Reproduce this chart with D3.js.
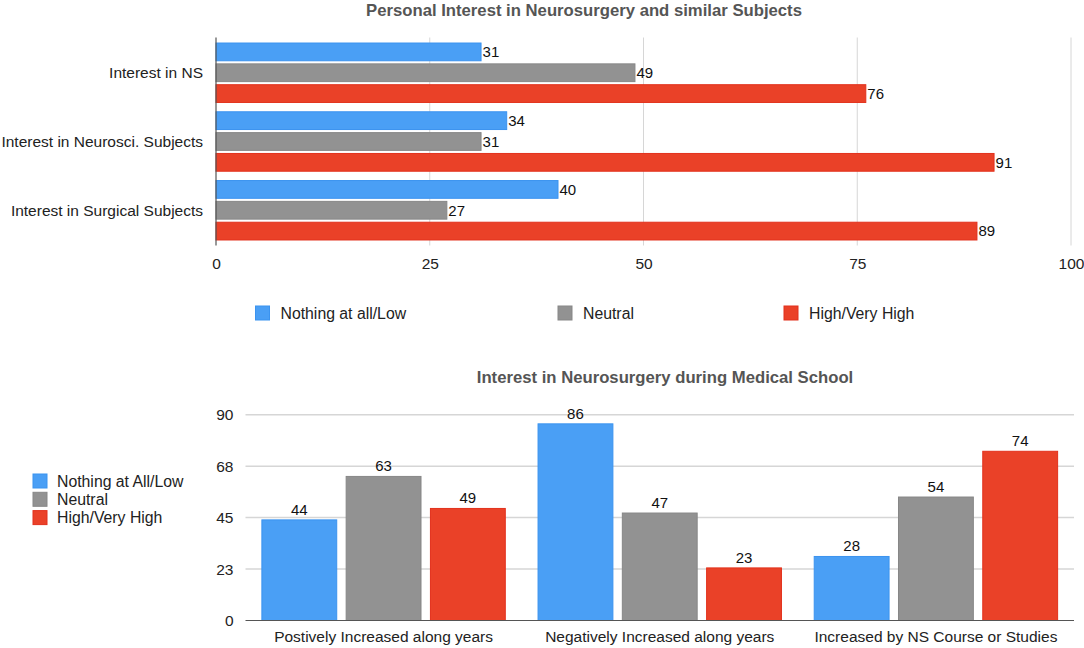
<!DOCTYPE html>
<html><head><meta charset="utf-8">
<script src="https://cdn.jsdelivr.net/npm/d3@7"></script>
<style>
html,body{margin:0;padding:0;background:#fff;}
svg{display:block;font-family:"Liberation Sans",Arial,Helvetica,sans-serif;}
</style></head>
<body>
<svg id="c" width="1084" height="648"></svg>
<script>
// ---- Top chart data ----
const topTitle = "Personal Interest in Neurosurgery and similar Subjects";
const topCategories = ["Interest in NS", "Interest in Neurosci. Subjects", "Interest in Surgical Subjects"];
const topSeries = ["Nothing at all/Low", "Neutral", "High/Very High"];
const topLow = [31, 34, 40];
const topNeutral = [49, 31, 27];
const topHigh = [76, 91, 89];
const topTicks = [0, 25, 50, 75, 100];

// ---- Bottom chart data ----
const botTitle = "Interest in Neurosurgery during Medical School";
const botCategories = ["Postively Increased along years", "Negatively Increased along years", "Increased by NS Course or Studies"];
const botSeries = ["Nothing at All/Low", "Neutral", "High/Very High"];
const botLow = [44, 86, 28];
const botNeutral = [63, 47, 54];
const botHigh = [49, 23, 74];
const botTicks = [0, 22.5, 45, 67.5, 90];
const botTickLabels = ["0", "23", "45", "68", "90"];

const colors = ["#4a9ff5", "#929292", "#ea4128"];
const strokes = ["#3b93ef", "#878787", "#e2311c"];

const FS = 15.5;     // general text size
const FT = 16.7;     // titles
const FV = 15;       // values

const svg = d3.select("#c");

// ================= TOP CHART =================
{
  const x = d3.scaleLinear().domain([0, 100]).range([216, 1071]);
  const y0 = d3.scaleBand().domain(topCategories).range([37.5, 245.5]).paddingInner(0.121).paddingOuter(0.073);
  const y1 = d3.scaleBand().domain(topSeries).range([0, y0.bandwidth()]).paddingInner(0.1).paddingOuter(0);
  const vals = [topLow, topNeutral, topHigh];

  svg.append("text").attr("x", 584).attr("y", 16).attr("text-anchor", "middle")
    .attr("font-size", FT).attr("font-weight", "bold").attr("fill", "#555").text(topTitle);

  // gridlines
  svg.append("g").selectAll("line").data(topTicks.slice(1)).join("line")
    .attr("x1", d => x(d)).attr("x2", d => x(d)).attr("y1", 37.5).attr("y2", 245.5)
    .attr("stroke", "#d6d6d6").attr("stroke-width", 1);

  // tick labels
  const xAxis = svg.append("g").attr("transform", "translate(0,245.5)")
    .call(d3.axisBottom(x).tickValues(topTicks).tickSize(0).tickPadding(12));
  xAxis.select(".domain").remove();
  xAxis.selectAll("text").attr("font-size", FS).attr("fill", "#222").attr("font-family", "Liberation Sans, Arial, sans-serif");

  const groups = svg.append("g").selectAll("g").data(topCategories).join("g")
    .attr("transform", d => `translate(0,${y0(d)})`);
  groups.each(function(cat, ci) {
    const g = d3.select(this);
    topSeries.forEach((s, si) => {
      const v = vals[si][ci];
      g.append("rect").attr("x", x(0)).attr("y", y1(s) + 0.5)
        .attr("width", x(v) - x(0)).attr("height", y1.bandwidth() - 1)
        .attr("fill", colors[si]).attr("stroke", strokes[si]).attr("stroke-width", 1);
      g.append("text").attr("x", x(v) + 1.5).attr("y", y1(s) + y1.bandwidth() / 2)
        .attr("dy", "0.36em").attr("font-size", FV).attr("fill", "#111").text(v);
    });
  });

  // y axis line & labels
  svg.append("line").attr("x1", x(0)).attr("x2", x(0)).attr("y1", 37.5).attr("y2", 245.5)
    .attr("stroke", "#555").attr("stroke-width", 1.2);
  svg.append("g").selectAll("text").data(topCategories).join("text")
    .attr("x", 203).attr("y", d => y0(d) + y0.bandwidth() / 2).attr("dy", "0.36em")
    .attr("text-anchor", "end").attr("font-size", FS).attr("fill", "#222").text(d => d);

  // legend
  const legX = [255.5, 558, 784];
  const leg = svg.append("g").selectAll("g").data(topSeries).join("g")
    .attr("transform", (d, i) => `translate(${legX[i]},306)`);
  leg.append("rect").attr("width", 14).attr("height", 14)
    .attr("fill", (d, i) => colors[i]).attr("stroke", (d, i) => strokes[i]);
  leg.append("text").attr("x", 25).attr("y", 7).attr("dy", "0.36em")
    .attr("font-size", 15.8).attr("fill", "#222").text(d => d);
}

// ================= BOTTOM CHART =================
{
  const y = d3.scaleLinear().domain([0, 90]).range([620.5, 414.7]);
  const x0 = d3.scaleBand().domain(botCategories).range([245.5, 1074]).paddingInner(0.115).paddingOuter(0.0575);
  const x1 = d3.scaleBand().domain(botSeries).range([0, x0.bandwidth()]).paddingInner(0.1).paddingOuter(0);
  const vals = [botLow, botNeutral, botHigh];

  svg.append("text").attr("x", 665).attr("y", 383).attr("text-anchor", "middle")
    .attr("font-size", FT).attr("font-weight", "bold").attr("fill", "#555").text(botTitle);

  // gridlines
  svg.append("g").selectAll("line").data(botTicks.slice(1)).join("line")
    .attr("x1", 245.5).attr("x2", 1074).attr("y1", d => y(d)).attr("y2", d => y(d))
    .attr("stroke", "#d6d6d6").attr("stroke-width", 1.5);

  const yAxis = svg.append("g").attr("transform", "translate(245.5,0)")
    .call(d3.axisLeft(y).tickValues(botTicks).tickFormat((d, i) => botTickLabels[i]).tickSize(0).tickPadding(12));
  yAxis.select(".domain").remove();
  yAxis.selectAll("text").attr("font-size", FS).attr("fill", "#222").attr("font-family", "Liberation Sans, Arial, sans-serif");

  const groups = svg.append("g").selectAll("g").data(botCategories).join("g")
    .attr("transform", d => `translate(${x0(d)},0)`);
  groups.each(function(cat, ci) {
    const g = d3.select(this);
    botSeries.forEach((s, si) => {
      const v = vals[si][ci];
      g.append("rect").attr("x", x1(s) + 0.5).attr("y", y(v))
        .attr("width", x1.bandwidth() - 1).attr("height", y(0) - y(v))
        .attr("fill", colors[si]).attr("stroke", strokes[si]).attr("stroke-width", 1);
      g.append("text").attr("x", x1(s) + x1.bandwidth() / 2).attr("y", y(v) - 5)
        .attr("text-anchor", "middle").attr("font-size", FV).attr("fill", "#111").text(v);
    });
  });

  // baseline
  svg.append("line").attr("x1", 245.5).attr("x2", 1074).attr("y1", y(0)).attr("y2", y(0))
    .attr("stroke", "#555").attr("stroke-width", 1.2);

  // category labels
  svg.append("g").selectAll("text").data(botCategories).join("text")
    .attr("x", d => x0(d) + x0.bandwidth() / 2).attr("y", 642)
    .attr("text-anchor", "middle").attr("font-size", FS).attr("fill", "#222").text(d => d);

  // legend
  const leg = svg.append("g").selectAll("g").data(botSeries).join("g")
    .attr("transform", (d, i) => `translate(33,${474 + i * 18.3})`);
  leg.append("rect").attr("width", 14).attr("height", 14)
    .attr("fill", (d, i) => colors[i]).attr("stroke", (d, i) => strokes[i]);
  leg.append("text").attr("x", 24).attr("y", 7).attr("dy", "0.36em")
    .attr("font-size", 15.8).attr("fill", "#222").text(d => d);
}
</script>
</body></html>
